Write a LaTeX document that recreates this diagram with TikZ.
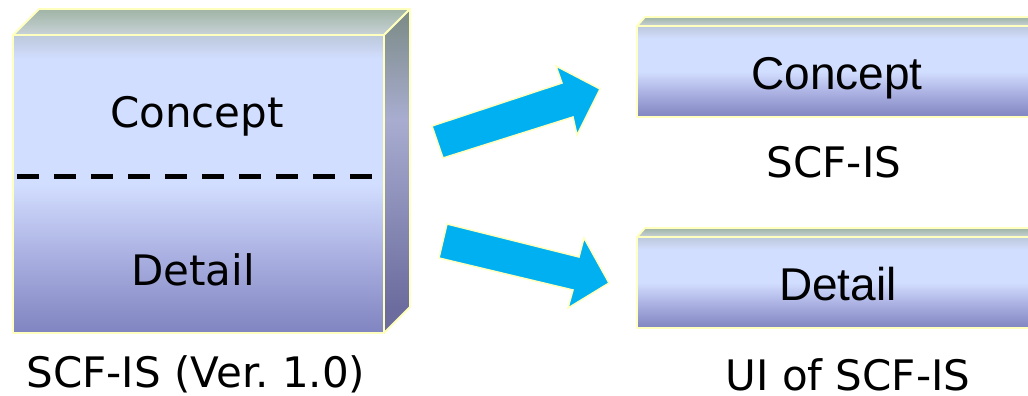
\documentclass[tikz,border=0pt]{standalone}
\usepackage{fontspec}
\setmainfont{DejaVu Sans}
\newfontfamily\arialf{Liberation Sans}
\definecolor{bordery}{RGB}{255,255,190}
\definecolor{arrowc}{RGB}{0,176,240}
\definecolor{fl}{RGB}{210,222,255}
\definecolor{fb}{RGB}{128,132,192}
\definecolor{fmid}{RGB}{170,176,225}
\definecolor{ft}{RGB}{188,200,218}
\definecolor{sdtop}{RGB}{122,138,132}
\definecolor{sdmid}{RGB}{168,173,208}
\definecolor{sdbot}{RGB}{108,108,158}
\definecolor{tptop}{RGB}{160,180,165}
\definecolor{tpbot}{RGB}{200,210,216}
\pgfdeclareverticalshading{frontshade}{100bp}{color(0bp)=(fb); color(25bp)=(fb); color(38bp)=(fmid); color(50bp)=(fl); color(71bp)=(fl); color(75bp)=(ft); color(100bp)=(ft)}
\pgfdeclareverticalshading{smallfront}{100bp}{color(0bp)=(fb); color(25bp)=(fb); color(38bp)=(fmid); color(50bp)=(fl); color(68bp)=(fl); color(75bp)=(ft); color(100bp)=(ft)}
\pgfdeclareverticalshading{sideshade}{100bp}{color(0bp)=(sdbot); color(29bp)=(sdbot); color(58bp)=(sdmid); color(75bp)=(sdtop); color(100bp)=(sdtop)}
\pgfdeclareverticalshading{topshade}{100bp}{color(0bp)=(tpbot); color(25bp)=(tpbot); color(75bp)=(tptop); color(100bp)=(tptop)}
\tikzset{
  edge/.style={draw=bordery, line width=1.8pt, line join=round},
  lbl/.style={font=\fontsize{42}{50}\selectfont, text=black, inner sep=0pt, anchor=base},
  rlbl/.style={font=\arialf\fontsize{46}{54}\selectfont, text=black, inner sep=0pt, anchor=base},
  blockarrow/.style={fill=arrowc, draw=bordery, line width=1.5pt, line join=miter}
}
\begin{document}
\begin{tikzpicture}[x=1pt,y=-1pt]
\useasboundingbox (0,0) rectangle (1028,396);
\clip (0,0) rectangle (1028,396);
% big 3D box
\coordinate (fA) at (13,35);
\coordinate (fB) at (384,35);
\coordinate (fC) at (384,333);
\coordinate (fD) at (13,333);
\coordinate (bA) at (39,9);
\coordinate (bB) at (410,9);
\coordinate (bC) at (410,307);
\shadedraw[edge, shading=topshade] (fA) -- (bA) -- (bB) -- (fB) -- cycle;
\shadedraw[edge, shading=sideshade] (fB) -- (bB) -- (bC) -- (fC) -- cycle;
\shadedraw[edge, shading=frontshade] (fA) -- (fB) -- (fC) -- (fD) -- cycle;
\coordinate (dL) at (17,176);
\coordinate (dR) at (380,176);
\draw[line width=5pt, dash pattern=on 22pt off 15pt] (dL) -- (dR);
% right boxes
\coordinate (cA) at (637,26);
\coordinate (cB) at (1040,26);
\coordinate (cC) at (1040,117);
\coordinate (cD) at (637,117);
\coordinate (cE) at (645,17);
\coordinate (cF) at (1040,17);
\shadedraw[edge, shading=topshade] (cA) -- (cE) -- (cF) -- (cB) -- cycle;
\shadedraw[edge, shading=smallfront] (cA) -- (cB) -- (cC) -- (cD) -- cycle;
\coordinate (eA) at (637,237);
\coordinate (eB) at (1040,237);
\coordinate (eC) at (1040,328);
\coordinate (eD) at (637,328);
\coordinate (eE) at (645,228);
\coordinate (eF) at (1040,228);
\shadedraw[edge, shading=topshade] (eA) -- (eE) -- (eF) -- (eB) -- cycle;
\shadedraw[edge, shading=smallfront] (eA) -- (eB) -- (eC) -- (eD) -- cycle;
% block arrows
\draw[blockarrow] (432,126) -- (562,83) -- (556,66) -- (600,89) -- (577,135) -- (573,117) -- (443,158) -- cycle;
\draw[blockarrow] (447,224) -- (579,257) -- (584,238) -- (609,283) -- (568,308) -- (573,290) -- (439,258) -- cycle;
% texts
\node[lbl] (c1) at (197,127) {Concept};
\node[lbl] (d1) at (193,285) {Detail};
\node[lbl] (cap1) at (196,387) {SCF-IS (Ver.\ 1.0)};
\node[rlbl] (c2) at (837,89) {Concept};
\node[rlbl] (d2) at (838,300) {Detail};
\node[lbl] (cap2) at (834,177) {SCF-IS};
\node[lbl] (cap3) at (848,390) {UI of SCF-IS};
\end{tikzpicture}
\end{document}
